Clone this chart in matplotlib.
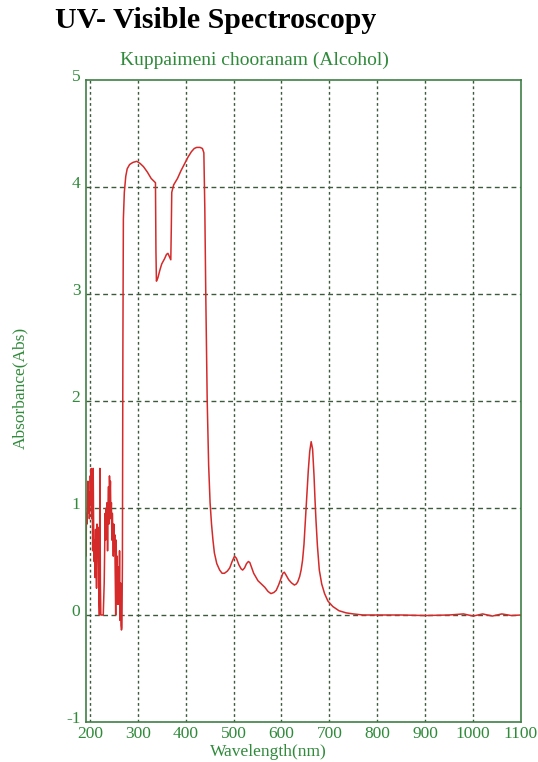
import matplotlib.pyplot as plt
import matplotlib.transforms as mtransforms
import numpy as np

# noisy low-wavelength region (detector saturation)
wl_noise = [190, 191, 192, 193, 194, 195, 196, 197, 198, 199, 200, 201, 202, 203,
            204, 205, 206, 207, 208, 209, 210, 211, 212, 213, 214, 215, 216, 217,
            218, 219, 220, 221, 222, 223, 225, 228, 230, 231, 232, 233, 234, 235,
            236, 237, 238, 239, 240, 241, 242, 243, 244, 245, 246, 247, 248, 249,
            250, 251, 252, 253, 254, 255, 256, 257, 258, 259, 260, 261, 262, 263,
            264, 265, 266, 267]
abs_noise = [0.35, 0.75, 0.55, 0.95, 0.85, 1.05, 1.25, 0.95, 1.15, 0.9, 1.0, 1.3,
             1.05, 1.37, 0.9, 1.2, 0.6, 1.37, 0.8, 0.5, 0.7, 0.35, 0.8, 0.5, 0.25,
             0.85, 0.6, 0.82, 0.4, 0.15, 0.0, 1.37, 0.3, 0.0, 0.0, 0.0, 0.3, 0.6,
             0.95, 0.7, 1.0, 0.85, 1.05, 0.6, 1.0, 1.2, 0.85, 1.3, 1.1, 1.25, 0.9,
             1.05, 0.7, 0.95, 0.8, 0.55, 0.85, 0.6, 0.75, 0.4, 0.0, 0.7, 0.25, 0.55,
             0.1, 0.45, 0.2, 0.1, 0.6, -0.05, 0.3, -0.1, -0.14, -0.12]

# main absorption bands
wl_bands = [268, 269, 270, 272, 275, 278, 283, 290, 298, 305, 312, 320, 328, 335,
            337, 338, 339, 342, 346, 350, 356, 360, 363, 366, 369, 370, 371, 375,
            383, 390, 398, 405, 412, 418, 423, 430, 435, 438, 440, 442, 445, 448,
            451, 454, 457, 460, 465, 471, 476, 481, 487, 492, 497, 502, 506, 511,
            516, 519, 523, 527, 531, 534, 538, 542, 547, 551, 558, 565, 572, 578,
            584, 589, 594, 599, 603, 606, 610, 615, 621, 627, 631, 634, 638, 641,
            644, 647, 650, 653, 656, 659, 662, 665, 668, 670, 672, 675, 679, 684,
            690, 697, 707, 720, 735, 750, 770, 800, 850, 900, 950, 980, 1000, 1020,
            1040, 1060, 1080, 1100]
abs_bands = [0.5, 2.5, 3.7, 3.95, 4.1, 4.17, 4.21, 4.23, 4.24, 4.22, 4.19, 4.14,
             4.08, 4.05, 4.04, 3.4, 3.12, 3.15, 3.22, 3.28, 3.33, 3.37, 3.38, 3.35,
             3.32, 3.6, 3.95, 4.02, 4.08, 4.15, 4.22, 4.28, 4.33, 4.36, 4.37, 4.37,
             4.36, 4.32, 3.8, 3.0, 2.0, 1.4, 1.05, 0.85, 0.7, 0.58, 0.48, 0.42, 0.39,
             0.39, 0.41, 0.44, 0.5, 0.55, 0.53, 0.47, 0.43, 0.42, 0.44, 0.48, 0.5,
             0.49, 0.44, 0.39, 0.35, 0.32, 0.29, 0.26, 0.22, 0.2, 0.21, 0.23, 0.28,
             0.34, 0.39, 0.4, 0.37, 0.33, 0.3, 0.28, 0.29, 0.31, 0.36, 0.42, 0.51,
             0.66, 0.89, 1.12, 1.35, 1.53, 1.62, 1.55, 1.3, 1.08, 0.89, 0.65, 0.42,
             0.29, 0.2, 0.13, 0.08, 0.04, 0.02, 0.01, 0.0, 0.0, 0.0, -0.005, 0.0,
             0.01, -0.01, 0.01, -0.01, 0.01, -0.005, 0.0]

x_ticks = [200, 300, 400, 500, 600, 700, 800, 900, 1000, 1100]
y_ticks = [-1, 0, 1, 2, 3, 4, 5]

wavelength = np.array(wl_noise + wl_bands)
absorbance = np.array(abs_noise + abs_bands)

green = '#2f8a3a'
spine_green = '#3f7f45'
grid_col = '#3d5a3d'

plt.rcParams['font.family'] = ['Liberation Serif', 'DejaVu Serif']
plt.rcParams['axes.unicode_minus'] = False

fig = plt.figure(figsize=(5.38, 7.62), dpi=100)
ax = fig.add_axes([86 / 538, 40 / 762, 435 / 538, 642 / 762])

ax.plot(wavelength, absorbance, color='#d42a2a', lw=1.1)

ax.set_xlim(192, 1100)
ax.set_ylim(-1, 5)
ax.set_xticks(x_ticks)
ax.set_yticks(y_ticks)

# horizontal dashed, vertical short-dashed grid
for y in y_ticks[1:-1]:
    ax.axhline(y, color=grid_col, lw=1, ls=(0, (3.5, 2.5)), zorder=0)
for x in x_ticks[:-1]:
    ax.axvline(x, color=grid_col, lw=1, ls=(0, (2, 2)), zorder=0)

for s in ax.spines.values():
    s.set_color(spine_green)
    s.set_linewidth(1.2)

ax.tick_params(length=0, labelsize=12.5, labelcolor=green, pad=4)
ax.tick_params(axis='x', pad=3)

# y labels sit a little above their gridlines
lift = mtransforms.ScaledTranslation(0, 5 / 100, fig.dpi_scale_trans)
for lab in ax.get_yticklabels():
    lab.set_transform(lab.get_transform() + lift)

# axis titles placed as figure text
fig.text(268 / 538, 1 - 752 / 762, 'Wavelength(nm)', color=green, fontsize=12.5,
         ha='center', va='center')
fig.text(20 / 538, 1 - 388 / 762, 'Absorbance(Abs)', color=green, fontsize=12.5,
         rotation=90, ha='center', va='center')

fig.text(216 / 538, 1 - 21 / 762, 'UV- Visible Spectroscopy', fontsize=21.5,
         fontweight='bold', ha='center', va='center', color='black')
fig.text(254 / 538, 1 - 60 / 762, 'Kuppaimeni chooranam (Alcohol)', fontsize=14,
         ha='center', va='center', color=green)

fig.savefig('out.png', dpi=100)
